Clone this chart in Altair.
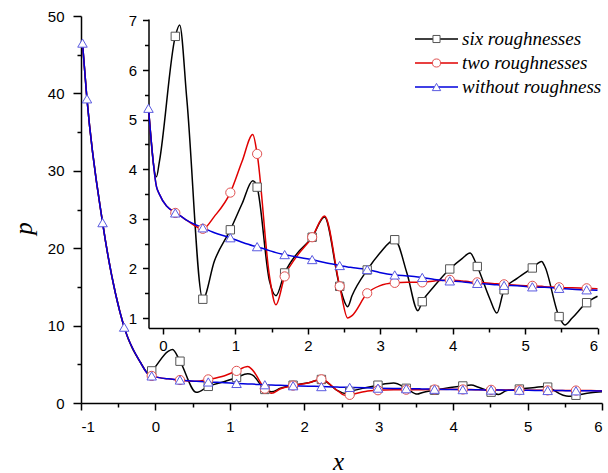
import altair as alt
import pandas as pd

# ---- data ----
x_grid = [-0.98, -0.92, -0.71, -0.42, -0.20, -0.09, -0.05, 0.17, 0.23, 0.33, 0.55, 0.71,
          0.93, 1.09, 1.24, 1.30, 1.47, 1.56, 1.68, 1.85, 2.06, 2.23, 2.44, 2.55, 2.61,
          2.82, 2.99, 3.20, 3.37, 3.52, 3.58, 3.75, 3.96, 4.13, 4.24, 4.34, 4.51, 4.61,
          4.71, 4.89, 5.10, 5.23, 5.27, 5.47, 5.55, 5.65, 5.85, 6.00]
six_rough = [46.5, 39.3, 23.3, 9.8, 5.23, 3.85, 4.15, 6.68, 6.91, 5.4, 1.38, 2.15,
             2.78, 3.3, 3.77, 3.64, 1.75, 1.45, 1.91, 2.3, 2.63, 3.04, 1.64, 1.23, 1.45,
             1.97, 2.3, 2.58, 1.9, 1.15, 1.33, 1.65, 1.99, 2.2, 2.31, 2.04, 1.4, 1.10,
             1.57, 1.8, 2.01, 2.14, 2.05, 1.03, 0.86, 1.0, 1.31, 1.44]
two_rough = [46.5, 39.3, 23.3, 9.8, 5.23, 3.65, 3.5, 3.12, 3.07, 2.97, 2.80, 3.05,
             3.53, 4.15, 4.70, 4.31, 1.85, 1.27, 1.84, 2.25, 2.63, 3.06, 1.64, 1.0, 1.05,
             1.50, 1.65, 1.71, 1.72, 1.72, 1.72, 1.75, 1.77, 1.75, 1.73, 1.72, 1.70, 1.69,
             1.68, 1.66, 1.65, 1.64, 1.63, 1.62, 1.61, 1.61, 1.60, 1.59]
no_rough = [46.5, 39.3, 23.3, 9.8, 5.23, 3.65, 3.5, 3.12, 3.07, 2.97, 2.82, 2.72,
            2.62, 2.53, 2.46, 2.44, 2.36, 2.32, 2.28, 2.23, 2.18, 2.12, 2.06, 2.03, 2.02,
            1.98, 1.92, 1.87, 1.85, 1.83, 1.82, 1.78, 1.75, 1.73, 1.71, 1.70, 1.68, 1.67,
            1.66, 1.65, 1.63, 1.62, 1.62, 1.60, 1.59, 1.58, 1.57, 1.56]

series_names = ["six roughnesses", "two roughnesses", "without roughness"]
main_marker_x = [-0.98, -0.92, -0.71, -0.42, -0.05, 0.33, 0.71, 1.09, 1.47, 1.85, 2.23,
                 2.61, 2.99, 3.37, 3.75, 4.13, 4.51, 4.89, 5.27, 5.65]
inset_marker_x = [-0.20, 0.17, 0.55, 0.93, 1.30, 1.68, 2.06, 2.44, 2.82, 3.20, 3.58,
                  3.96, 4.34, 4.71, 5.10, 5.47, 5.85]

main_x_ticks = [-1, -0.5, 0, 0.5, 1, 1.5, 2, 2.5, 3, 3.5, 4, 4.5, 5, 5.5, 6]
main_y_ticks = [0, 5, 10, 15, 20, 25, 30, 35, 40, 45, 50]
inset_x_ticks = [0, 0.5, 1, 1.5, 2, 2.5, 3, 3.5, 4, 4.5, 5, 5.5, 6]
inset_y_ticks = [1, 1.5, 2, 2.5, 3, 3.5, 4, 4.5, 5, 5.5, 6, 6.5, 7]

line_colors = ["#000000", "#e00000", "#0000dd"]
marker_strokes = ["#555555", "#e05050", "#5a5ae0"]
marker_shapes = ["square", "circle", "triangle-up"]
marker_sizes = [70, 85, 90]

rows = []
for name, vals in zip(series_names, [six_rough, two_rough, no_rough]):
    for xv, yv in zip(x_grid, vals):
        rows.append({"series": name, "x": xv, "y": yv})
df = pd.DataFrame(rows)

# ---- layout ----
W, H = 521, 387
LEFT, TOP = 81, 16
inset_x_range = [148.5 - LEFT, 597.5 - LEFT]
inset_y_range = [328 - TOP, 19 - TOP]

LABEL_FONT = "Liberation Sans"
TITLE_FONT = "Liberation Serif"


def minor_size(test, big, small):
    return {"condition": {"test": test, "value": big}, "value": small}


main_x_axis = alt.Axis(
    values=main_x_ticks, labelExpr="datum.value % 1 === 0 ? '' + datum.value : ''",
    tickSize=minor_size("datum.value % 1 === 0", 7, 4), labelPadding=9,
    title="x", titleFont=TITLE_FONT, titleFontStyle="italic", titleFontWeight="normal",
    titleFontSize=25, titleX=338 - LEFT, titleY=66, titleBaseline="alphabetic",
    titleAlign="center")
main_y_axis = alt.Axis(
    values=main_y_ticks, labelExpr="datum.value % 10 === 0 ? '' + datum.value : ''",
    tickSize=minor_size("datum.value % 10 === 0", 8, 4), labelPadding=9,
    title="p", titleFont=TITLE_FONT, titleFontStyle="italic", titleFontWeight="normal",
    titleFontSize=25, titleAngle=270, titleX=28 + 3 - LEFT, titleY=228 - TOP,
    titleBaseline="alphabetic", titleAlign="center")
inset_x_axis = alt.Axis(
    orient="bottom", offset=-(H - (328 - TOP)), values=inset_x_ticks,
    labelExpr="datum.value % 1 === 0 ? '' + datum.value : ''",
    tickSize=minor_size("datum.value % 1 === 0", 6, 4), labelPadding=4, title=None)
inset_y_axis = alt.Axis(
    orient="left", offset=-inset_x_range[0], values=inset_y_ticks,
    labelExpr="datum.value % 1 === 0 ? '' + datum.value : ''",
    tickSize=minor_size("datum.value % 1 === 0", 6, 4), labelPadding=6, title=None)

mx = alt.X("x:Q", scale=alt.Scale(domain=[-1, 6], nice=False, zero=False), axis=main_x_axis)
my = alt.Y("y:Q", scale=alt.Scale(domain=[0, 50], nice=False, zero=False), axis=main_y_axis)
ix = alt.X("x:Q", scale=alt.Scale(domain=[-0.2, 6], range=inset_x_range, nice=False, zero=False),
           axis=inset_x_axis)
iy = alt.Y("y:Q", scale=alt.Scale(domain=[0.8, 7.03], range=inset_y_range, nice=False, zero=False),
           axis=inset_y_axis)

line_color = alt.Color("series:N", scale=alt.Scale(domain=series_names, range=line_colors),
                       legend=None)


def marker_layers(data, xenc, yenc, first_x):
    layers = []
    for i, name in enumerate(series_names):
        sub = data[(data.series == name)]
        if i < 2:
            sub = sub[sub.x >= first_x]
        layers.append(
            alt.Chart(sub).mark_point(shape=marker_shapes[i], filled=True, fill="white",
                                      stroke=marker_strokes[i], strokeWidth=1,
                                      size=marker_sizes[i], opacity=1)
            .encode(x=xenc, y=yenc))
    return layers


main_line = alt.Chart(df).mark_line(interpolate="monotone", strokeWidth=1.5).encode(
    x=mx, y=my, color=line_color)
main_marks = df[df.x.isin(main_marker_x)]
main_group = alt.layer(main_line, *marker_layers(main_marks, mx, my, -0.1))

inset_df = df[df.x >= -0.2]
inset_line = alt.Chart(inset_df).mark_line(interpolate="monotone", strokeWidth=1.5).encode(
    x=ix, y=iy, color=line_color)
inset_marks = inset_df[inset_df.x.isin(inset_marker_x)]
inset_group = alt.layer(inset_line, *marker_layers(inset_marks, ix, iy, 0.0))

# ---- legend (drawn as marks) ----
legend_df = pd.DataFrame({"series": series_names, "row": list(range(len(series_names)))})
ly = alt.Y("row:Q", scale=alt.Scale(domain=[0, 2], range=[39 - TOP, 87 - TOP], nice=False,
                                     zero=False), axis=None)
leg_rule = alt.Chart(legend_df).mark_rule(strokeWidth=1.5).encode(
    x=alt.value(415 - LEFT), x2=alt.value(458 - LEFT), y=ly, color=line_color)
leg_pts = []
for i, name in enumerate(series_names):
    leg_pts.append(
        alt.Chart(legend_df[legend_df.series == name]).mark_point(
            shape=marker_shapes[i], filled=True, fill="white", stroke=marker_strokes[i],
            strokeWidth=1, size=marker_sizes[i] - 20, opacity=1)
        .encode(x=alt.value(436.5 - LEFT), y=ly))
leg_text = alt.Chart(legend_df).mark_text(
    align="left", baseline="middle", font=TITLE_FONT, fontStyle="italic", fontSize=19,
    color="black").encode(x=alt.value(462 - LEFT), y=ly, text="series:N")
legend_group = alt.layer(leg_rule, *leg_pts, leg_text)

chart = alt.layer(main_group, inset_group, legend_group).resolve_scale(
    x="independent", y="independent"
).properties(
    width=W, height=H, autosize=alt.AutoSizeParams(type="none"),
    padding={"left": LEFT, "top": TOP, "right": 608 - LEFT - W, "bottom": 473 - TOP - H},
    background="white"
).configure_view(stroke=None).configure_axis(
    grid=False, domainColor="black", domainWidth=1.5, tickColor="black", tickWidth=1.5,
    labelFont=LABEL_FONT, labelFontSize=15, labelColor="black", titleColor="black"
)

chart.save("out.html", embed_options={"renderer": "svg", "actions": False})
